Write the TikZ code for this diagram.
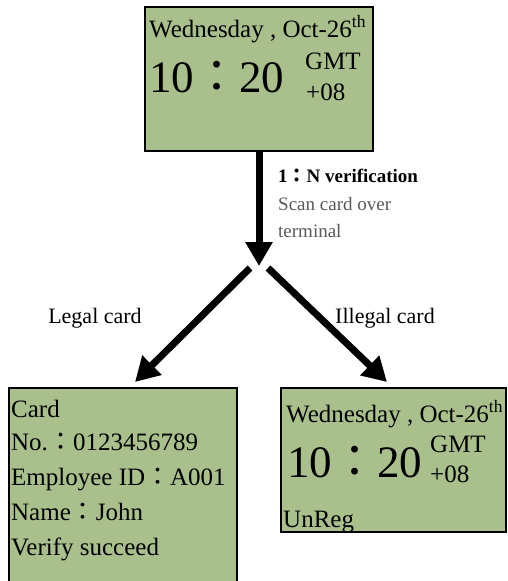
\documentclass[tikz,border=0pt]{standalone}
\usepackage{fontspec}
\setmainfont{Liberation Serif}
\newfontfamily\cjk{Noto Sans CJK TC}
\usetikzlibrary{arrows.meta, calc, positioning}
\definecolor{lcdgreen}{HTML}{A9BF8C}
\definecolor{notegray}{HTML}{595959}
\newcommand{\wcolon}{{\cjk ：}}
\tikzset
{
screen/.style={draw=black, fill=lcdgreen, line width=2pt, inner sep=0pt},
txt/.style={inner sep=0pt, anchor=base west, font=\fontsize{25}{30}\selectfont},
bigtime/.style={txt, font=\fontsize{45}{54}\selectfont},
lbl/.style={inner sep=0pt, anchor=base, font=\fontsize{22}{26}\selectfont},
flow/.style={line width=7pt, -{Triangle[length=24pt, width=26pt]}}
}

\begin{document}
\begin{tikzpicture}[x=1pt, y=-1pt]
	\useasboundingbox (0,0) rectangle (507,581);

	\node[screen, minimum width=228pt, minimum height=144pt] (idle) at (259,79) {};
	\node[txt] (idledate) at (149,37) {Wednesday , Oct-26\textsuperscript{th}};
	\node[bigtime] (idletime) at (149,92) {10\wcolon 20};
	\node[txt] (idlegmt) at (305,69) {GMT};
	\node[txt] (idlezone) at (306,100) {+08};

	\node[screen, minimum width=228pt, minimum height=213pt] (legal) at (123,494.5) {};
	\node[txt] (card) at (11,417) {Card};
	\node[txt] (cardno) at (11,450) {No.\wcolon 0123456789};
	\node[txt] (empid) at (11,485) {Employee ID\wcolon A001};
	\node[txt] (name) at (11,520) {Name\wcolon John};
	\node[txt] (ok) at (11,555) {Verify succeed};

	\node[screen, minimum width=225pt, minimum height=144pt] (illegal) at (393.5,460) {};
	\node[txt] (baddate) at (286,422) {Wednesday , Oct-26\textsuperscript{th}};
	\node[bigtime] (badtime) at (287,477) {10\wcolon 20};
	\node[txt] (badgmt) at (430,452) {GMT};
	\node[txt] (badzone) at (430,482) {+08};
	\node[txt] (unreg) at (283,527) {UnReg};

	\node[txt, font=\fontsize{19}{23}\selectfont\bfseries] (verif) at (278,182) {1\wcolon N verification};
	\node[txt, font=\fontsize{19}{23}\selectfont, text=notegray] (scan) at (278,210) {Scan card over};
	\node[txt, font=\fontsize{19}{23}\selectfont, text=notegray] (term) at (278,237) {terminal};
	\node[lbl] (legallbl) at (95,323) {Legal card};
	\node[lbl] (illegallbl) at (385,323) {Illegal card};

	\coordinate (fork) at (259,266);
	\coordinate (forkl) at (250,268);
	\coordinate (forkr) at (268,268);
	\coordinate (legalin) at (135,382);
	\coordinate (illegalin) at (387,382);

	\draw[flow] (idle.south) -- (fork);
	\draw[flow] (forkl) -- (legalin);
	\draw[flow] (forkr) -- (illegalin);
\end{tikzpicture}
\end{document}
